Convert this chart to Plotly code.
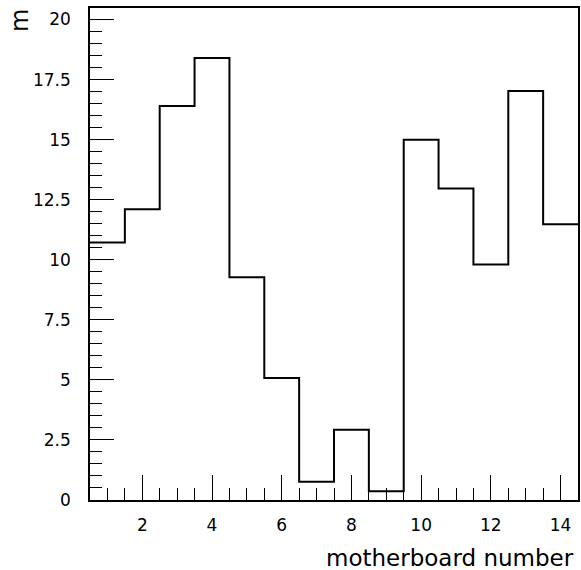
import plotly.graph_objects as go

motherboard = [1, 2, 3, 4, 5, 6, 7, 8, 9, 10, 11, 12, 13, 14]
values_m = [10.72, 12.1, 16.4, 18.4, 9.27, 5.08, 0.76, 2.92, 0.36, 15.0, 12.97, 9.8, 17.02, 11.48]
x_title = "motherboard number"
y_title = "m"

# step outline (histogram style) built from bin edges
edges = [b - 0.5 for b in motherboard] + [motherboard[-1] + 0.5]
step_y = values_m + [values_m[-1]]

fig = go.Figure()
fig.add_trace(go.Scatter(
    x=edges, y=step_y, mode="lines",
    line=dict(color="black", width=2, shape="hv"),
    hoverinfo="skip", showlegend=False,
))

font = "DejaVu Sans, Verdana, sans-serif"
fig.update_layout(
    width=581, height=570,
    margin=dict(l=90, r=1, t=8, b=70),
    paper_bgcolor="white", plot_bgcolor="white",
    font=dict(family=font, color="black", size=17),
    xaxis=dict(
        range=[0.5, 14.5], showgrid=False, zeroline=False,
        showline=True, linecolor="black", linewidth=1.5, mirror=True,
        ticks="inside", ticklen=25, tickwidth=1, tickcolor="black",
        tick0=0, dtick=2, ticklabelstandoff=9,
        minor=dict(ticks="inside", ticklen=12, dtick=0.5, tick0=0, tickcolor="black", tickwidth=1, showgrid=False),
        tickfont=dict(size=17),
    ),
    yaxis=dict(
        range=[0, 20.48], showgrid=False, zeroline=False,
        showline=True, linecolor="black", linewidth=1.5, mirror=True,
        ticks="inside", ticklen=24, tickwidth=1, tickcolor="black",
        tick0=0, dtick=2.5, ticklabelstandoff=14,
        minor=dict(ticks="inside", ticklen=12, dtick=0.5, tick0=0, tickcolor="black", tickwidth=1, showgrid=False),
        tickfont=dict(size=17),
    ),
    annotations=[
        dict(text=x_title, xref="paper", yref="paper", x=1, y=0, xanchor="right",
             yanchor="middle", xshift=-2, yshift=-58, showarrow=False, font=dict(size=23, family=font)),
        dict(text=y_title, xref="paper", yref="paper", x=0, y=1, xanchor="center",
             yanchor="middle", xshift=-70, yshift=-13, textangle=-90, showarrow=False,
             font=dict(size=24, family=font)),
    ],
)

fig.write_html("out.html")
